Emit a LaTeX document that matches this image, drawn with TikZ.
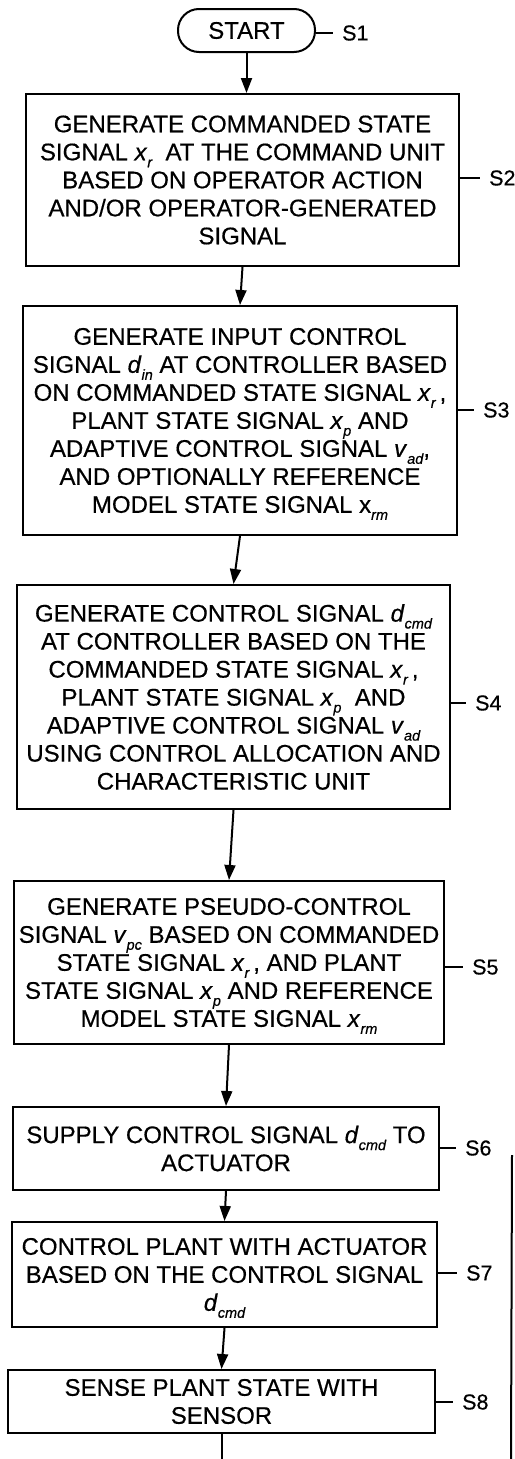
\documentclass[tikz,border=0pt]{standalone}
\usepackage{fontspec}
\setmainfont{Liberation Sans}[FakeBold=0.5]
\usepackage{tikz}
\usetikzlibrary{arrows.meta}
\def\vsub#1{\raisebox{-7pt}[0pt][0pt]{\fontsize{14.5}{14}\selectfont\itshape #1}}
\def\svar#1#2{\textit{#1}\vsub{#2}}

\begin{document}
\begin{tikzpicture}[x=1pt, y=-1pt,
		block/.style={draw, line width=2pt, rectangle, inner sep=0pt, align=center, font=\fontsize{24}{28}\selectfont},
		startstop/.style={draw, line width=2pt, rectangle, rounded corners=21pt, inner sep=0pt, minimum width=137pt, minimum height=43pt, font=\fontsize{24}{28}\selectfont},
		steplabel/.style={anchor=west, inner xsep=9pt, inner ysep=0pt, font=\fontsize{21.5}{24}\selectfont},
		flow/.style={line width=2pt, -{Triangle[length=15pt, width=11pt]}},
		tick/.style={line width=1.6pt}]
		%%%%% START %%%%%
		\useasboundingbox (0, 0) rectangle (514, 1459);
		
		\node[startstop] (s1) at (246.5, 30.5) {START};
		\node[steplabel] (l1) at (333, 33) {S1};
		
		\node[block, minimum width=433pt, minimum height=172pt] (s2) at (242.5, 180) {GENERATE COMMANDED STATE\\
			SIGNAL \svar{x}{r}\ \ AT THE COMMAND UNIT\\
			BASED ON OPERATOR ACTION\\
			AND/OR OPERATOR-GENERATED\\
			SIGNAL};
		\node[steplabel] (l2) at (480, 178) {S2};
		
		\node[block, minimum width=434pt, minimum height=229pt] (s3) at (240, 420.5) {GENERATE INPUT CONTROL\\
			SIGNAL \svar{d}{in}\ AT CONTROLLER BASED\\
			ON COMMANDED STATE SIGNAL \svar{x}{r}\,,\\
			PLANT STATE SIGNAL \svar{x}{p}\ AND\\
			ADAPTIVE CONTROL SIGNAL \svar{v}{ad},\\
			AND OPTIONALLY REFERENCE\\
			MODEL STATE SIGNAL x\vsub{rm}};
		\node[steplabel] (l3) at (474, 410) {S3};
		
		\node[block, minimum width=433pt, minimum height=224pt] (s4) at (233.5, 697) {GENERATE CONTROL SIGNAL \svar{d}{cmd}\\
			AT CONTROLLER BASED ON THE\\
			COMMANDED STATE SIGNAL \svar{x}{r}\,,\\
			PLANT STATE SIGNAL \svar{x}{p}\ \ AND\\
			ADAPTIVE CONTROL SIGNAL \svar{v}{ad}\\
			USING CONTROL ALLOCATION AND\\
			CHARACTERISTIC UNIT};
		\node[steplabel] (l4) at (466, 703) {S4};
		
		\node[block, minimum width=430pt, minimum height=163pt] (s5) at (229, 962.5) {GENERATE PSEUDO-CONTROL\\
			SIGNAL \svar{v}{pc}\ BASED ON COMMANDED\\
			STATE SIGNAL \svar{x}{r}\,, AND PLANT\\
			STATE SIGNAL \svar{x}{p}\ AND REFERENCE\\
			MODEL STATE SIGNAL \svar{x}{rm}};
		\node[steplabel] (l5) at (463, 967) {S5};
		
		\node[block, minimum width=426pt, minimum height=83pt] (s6) at (226, 1148.5) {SUPPLY CONTROL SIGNAL \svar{d}{cmd}\ TO\\
			ACTUATOR};
		\node[steplabel] (l6) at (456, 1148) {S6};
		
		\node[block, minimum width=425pt, minimum height=105pt] (s7) at (224.5, 1274.5) {CONTROL PLANT WITH ACTUATOR\\
			BASED ON THE CONTROL SIGNAL\\
			\svar{d}{cmd}};
		\node[steplabel] (l7) at (457, 1273) {S7};
		
		\node[block, minimum width=427pt, minimum height=63pt] (s8) at (221.5, 1401.5) {SENSE PLANT STATE WITH\\
			SENSOR};
		\node[steplabel] (l8) at (453, 1402) {S8};
		
		% step ticks
		\foreach \n in {1,...,8}
			\draw[tick] (s\n.east |- l\n.west) -- (l\n.west);
		
		% flow
		\draw[flow] (s1.south) -- (s1.south |- s2.north);
		\draw[flow] (s2.south) -- (s3.north);
		\draw[flow] (s3.south) -- (s4.north);
		\draw[flow] (s4.south) -- (s5.north);
		\draw[flow] (s5.south) -- (s6.north);
		\draw[flow] (s6.south) -- (s7.north);
		\draw[flow] (s7.south) -- (s8.north);
		
		\coordinate (down) at (219, 1459);
		\draw[line width=2pt] (s8.south) -- (s8.south |- down);
		\coordinate (backtop) at (512, 1155);
		\coordinate (backbot) at (511, 1459);
		\draw[line width=2pt] (backtop) -- (backbot);
		%%%%% END %%%%%
\end{tikzpicture}
\end{document}
